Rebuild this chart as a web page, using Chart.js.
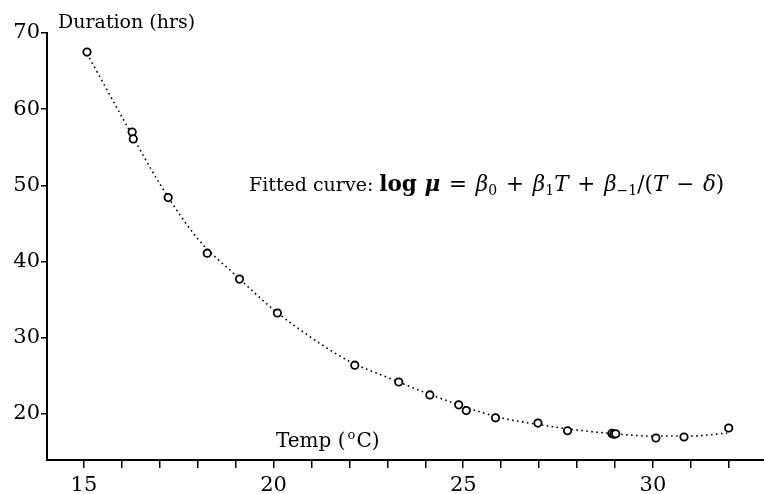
<!DOCTYPE html>
<html>
<head>
<meta charset="utf-8">
<script src="https://cdn.jsdelivr.net/npm/chart.js@4/dist/chart.umd.min.js"></script>
<style>
  body { margin: 0; background: #fff; }
  #wrap { width: 764px; height: 494px; }
</style>
</head>
<body>
<div id="wrap"><canvas id="chart" width="764" height="494"></canvas></div>
<script>
// observed durations vs temperature
const temps = [15.08, 16.27, 16.3, 17.22, 18.25, 19.1, 20.1, 22.14, 23.3, 24.12, 24.88, 25.08, 25.85, 26.97, 27.75, 28.92, 28.97, 29.02, 30.08, 30.82, 32.0];
const durations = [67.5, 57.0, 56.1, 48.4, 41.1, 37.7, 33.25, 26.4, 24.2, 22.5, 21.2, 20.45, 19.5, 18.8, 17.8, 17.45, 17.35, 17.4, 16.85, 16.98, 18.16];

// fitted curve
const fitTemps = [15.08, 16, 17, 18, 19, 20, 21, 22, 23, 24, 25, 26, 27, 28, 29, 30, 31, 31.96];
const fitDurations = [67.3, 59.0, 50.2, 43.0, 38.2, 33.7, 30.0, 26.9, 24.8, 22.8, 21.0, 19.5, 18.6, 17.9, 17.4, 17.1, 17.1, 17.5];

const xTickValues = [15, 16, 17, 18, 19, 20, 21, 22, 23, 24, 25, 26, 27, 28, 29, 30, 31, 32];
const yTickValues = [20, 30, 40, 50, 60, 70];

const serif = '"DejaVu Serif", serif';

const fitData = fitTemps.map((t, i) => ({x: t, y: fitDurations[i]}));
const obsData = temps.map((t, i) => ({x: t, y: durations[i]}));

function drawRuns(ctx, x, y, runs) {
    for (const r of runs) {
        ctx.font = r.font;
        ctx.fillText(r.text, x, y + (r.dy || 0));
        x += ctx.measureText(r.text).width + (r.gap || 0);
    }
}

const textPlugin = {
    id: 'texts',
    afterDraw(chart) {
        const ctx = chart.ctx;
        ctx.save();
        ctx.fillStyle = '#000';
        ctx.textBaseline = 'alphabetic';
        ctx.textAlign = 'left';
        ctx.font = '19px ' + serif;
        ctx.fillText('Duration (hrs)', 58, 28);

        drawRuns(ctx, 276, 447, [
            {text: 'Temp (', font: '20px ' + serif, gap: 2},
            {text: 'o', font: '13px ' + serif, dy: -8, gap: 1},
            {text: 'C)', font: '20px ' + serif}
        ]);

        const sz = 21.5;
        const reg = sz + 'px ' + serif;
        const it = 'italic ' + sz + 'px ' + serif;
        const sub = '14px ' + serif;
        drawRuns(ctx, 249, 191, [
            {text: 'Fitted curve: ', font: '19px ' + serif},
            {text: 'log ', font: 'bold ' + reg},
            {text: '\u03BC', font: 'bold italic ' + reg, gap: 2},
            {text: ' = ', font: reg, gap: 2},
            {text: '\u03B2', font: it},
            {text: '0', font: sub, dy: 4, gap: 2},
            {text: ' + ', font: reg, gap: 2},
            {text: '\u03B2', font: it},
            {text: '1', font: sub, dy: 4},
            {text: 'T', font: it, gap: 2},
            {text: ' + ', font: reg, gap: 2},
            {text: '\u03B2', font: it},
            {text: '\u22121', font: sub, dy: 4},
            {text: '/(', font: reg},
            {text: 'T', font: it, gap: 2},
            {text: ' \u2212 ', font: reg, gap: 2},
            {text: '\u03B4', font: it},
            {text: ')', font: reg}
        ]);
        ctx.restore();
    }
};

new Chart(document.getElementById('chart'), {
    type: 'scatter',
    data: {
        datasets: [{
            label: 'fit',
            type: 'line',
            data: fitData,
            borderColor: '#000',
            borderWidth: 1.6,
            borderDash: [1.6, 3.4],
            cubicInterpolationMode: 'monotone',
            pointRadius: 0,
            fill: false,
            order: 2
        }, {
            label: 'observed',
            data: obsData,
            pointStyle: 'circle',
            pointRadius: 3.7,
            pointBorderWidth: 1.8,
            pointBackgroundColor: '#fff',
            pointBorderColor: '#000',
            order: 1
        }]
    },
    options: {
        responsive: false,
        animation: false,
        layout: { autoPadding: false, padding: { top: 33, right: 0, left: 0, bottom: 0 } },
        plugins: { legend: { display: false }, tooltip: { enabled: false } },
        scales: {
            x: {
                type: 'linear',
                min: 14.025,
                max: 32.93,
                afterBuildTicks: (s) => { s.ticks = xTickValues.map(v => ({value: v})); },
                afterFit: (s) => { s.height = 34; s.paddingLeft = 0; s.paddingRight = 0; },
                grid: { drawOnChartArea: false, drawTicks: true, tickLength: 8, color: '#000', lineWidth: 1.5 },
                border: { display: true, color: '#000', width: 2 },
                ticks: {
                    color: '#000',
                    padding: 5,
                    maxRotation: 0,
                    autoSkip: false,
                    font: { family: serif, size: 21 },
                    callback: (v) => (v % 5 === 0 ? String(v) : '')
                }
            },
            y: {
                type: 'linear',
                min: 13.96,
                max: 70,
                afterBuildTicks: (s) => { s.ticks = yTickValues.map(v => ({value: v})); },
                afterFit: (s) => { s.width = 47; },
                grid: { drawOnChartArea: false, drawTicks: true, tickLength: 6, color: '#000', lineWidth: 1.5 },
                border: { display: true, color: '#000', width: 2 },
                ticks: {
                    color: '#000',
                    padding: 1,
                    font: { family: serif, size: 21 }
                }
            }
        }
    },
    plugins: [textPlugin]
});
</script>
</body>
</html>
